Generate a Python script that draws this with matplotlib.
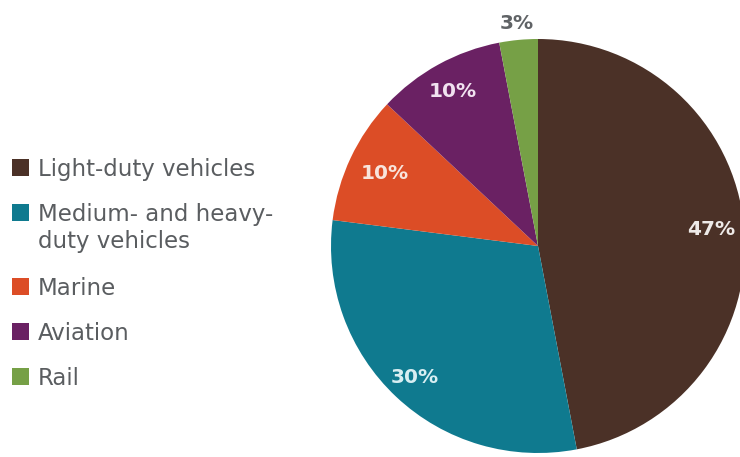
import numpy as np
import matplotlib.pyplot as plt
from matplotlib.patches import Rectangle

# transport energy share by mode
modes = ["Light-duty vehicles", "Medium- and heavy-\nduty vehicles", "Marine", "Aviation", "Rail"]
shares = [47, 30, 10, 10, 3]
colors = ["#4b3127", "#0f7a8f", "#dc4d26", "#6a2163", "#76a046"]
label_colors = ["#eeeae8", "#d8eef2", "#f8e4dc", "#f1e2f0", "#606366"]

plt.rcParams['font.family'] = ['DejaVu Sans']

fig = plt.figure(figsize=(7.4, 4.57), dpi=100)
ax = fig.add_axes([0, 0, 1, 1])

center = (538, 211)
radius = 207
wedges, _ = ax.pie(shares, colors=colors, startangle=90, counterclock=False,
                   center=center, radius=radius, frame=True,
                   wedgeprops=dict(linewidth=0))
ax.set_xlim(0, 740)
ax.set_ylim(0, 457)
ax.set_aspect('equal')
ax.axis('off')

# percentage labels; rail sits outside the pie
dists = [0.84, 0.87, 0.82, 0.85, 1.08]
for w, s, d, c in zip(wedges, shares, dists, label_colors):
    ang = np.deg2rad((w.theta1 + w.theta2) / 2)
    x = center[0] + d * radius * np.cos(ang)
    y = center[1] + d * radius * np.sin(ang)
    ax.text(x, y, f"{s}%", ha='center', va='center', fontsize=14.5,
            fontweight='semibold', color=c)

# legend on the left, one text per line so the box sits on the first line
y = 457 - 168
for m, c in zip(modes, colors):
    ax.add_patch(Rectangle((12, y - 8), 17, 17, color=c, lw=0))
    lines = m.split('\n')
    for i, line in enumerate(lines):
        ax.text(38, y - 8 - 27 * i, line, ha='left', va='baseline',
                fontsize=16.5, color='#5a5d60')
    y -= 45 + 29 * (len(lines) - 1)

fig.savefig('out.png', dpi=100)
